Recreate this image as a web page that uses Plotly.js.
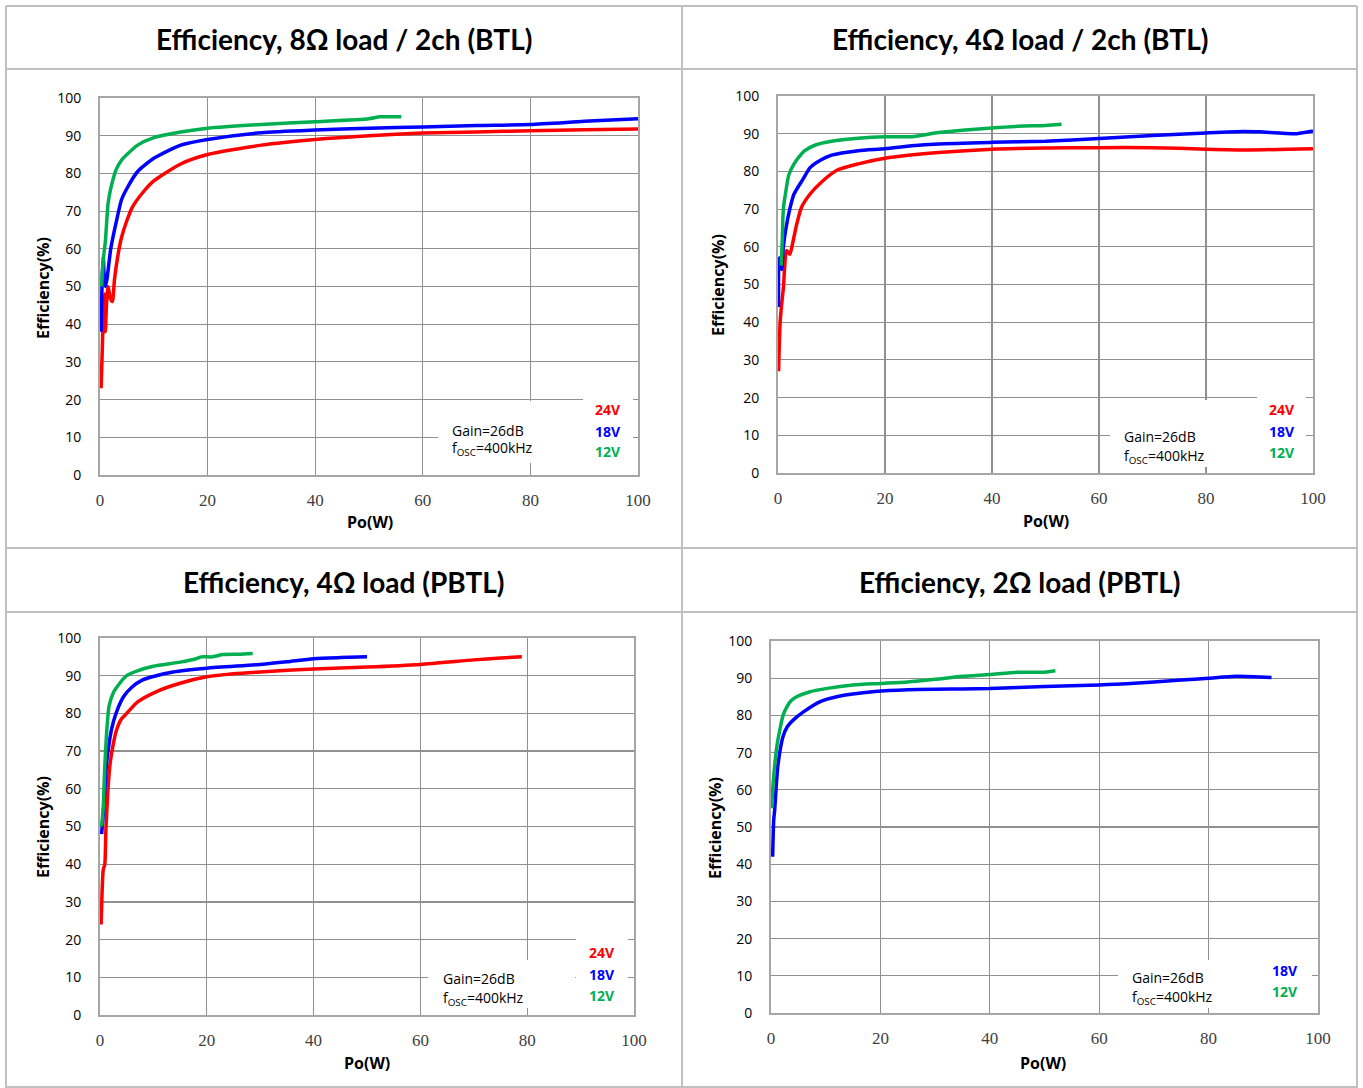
<!DOCTYPE html>
<html><head><meta charset="utf-8">
<script src="https://cdn.plot.ly/plotly-3.0.1.min.js"></script>
<style>html,body{margin:0;padding:0;background:#fff;}#c{width:1363px;height:1088px;}</style>
</head><body><div id="c"></div>
<script>
// ---------- DATA ----------
const panelTitles = ["Efficiency, 8Ω load / 2ch (BTL)", "Efficiency, 4Ω load / 2ch (BTL)", "Efficiency, 4Ω load (PBTL)", "Efficiency, 2Ω load (PBTL)"];
const xTicks = [0, 20, 40, 60, 80, 100];
const yTicks = [0, 10, 20, 30, 40, 50, 60, 70, 80, 90, 100];
const seriesNames = ["24V", "18V", "12V"];

// Panel 1: 8 ohm / 2ch BTL
const p1_24V_x = [0.2,0.4,0.6,0.8,1.0,1.2,1.5,1.9,2.3,2.7,3.3,4,5,6,8,10,15,20,30,40,50,60,70,80,90,100];
const p1_24V_y = [23,32,42,48,38,45,50,47,46,52,58,63,67.5,71,75,78,82.5,85,87.5,89,90,90.7,91,91.3,91.6,91.8];
const p1_18V_x = [0.2,0.4,0.6,0.8,1.0,1.3,2,3,4,5,7,10,15,20,30,40,50,60,70,80,90,100];
const p1_18V_y = [38,52,58,52,50,52,60,67,73,76,80.5,84,87.5,89,90.8,91.5,92,92.3,92.7,93,93.8,94.5];
const p1_12V_x = [0.3,0.6,1,1.5,2,3,4,5,7,10,15,20,30,40,50,52,56];
const p1_12V_y = [50,57,62,72,76,81,83.5,85,87.5,89.5,91,92,93,93.7,94.5,95,95];

// Panel 2: 4 ohm / 2ch BTL
const p2_24V_x = [0.1,0.4,0.7,1,1.6,2.2,2.6,3.5,4.4,6,8,11,15,20,30,40,50,60,70,80,88,100];
const p2_24V_y = [27,40,45,49,59,58,60,66,70.5,74,77,80.3,82,83.5,85,85.9,86.2,86.3,86.3,85.9,85.7,86];
const p2_18V_x = [0.1,0.3,0.5,0.7,1,1.5,2.2,3,4.7,6,8,10,15,20,25,30,40,50,60,70,80,87,90,97,100];
const p2_18V_y = [44,57,57,54,60,65,70,74,78,81,83,84.3,85.5,86,86.8,87.3,87.7,88,88.7,89.5,90.2,90.6,90.5,90,90.7];
const p2_12V_x = [0.6,0.8,1,1.5,2,3,4,5,7,10,15,20,25,30,35,40,45,50,53];
const p2_12V_y = [55,62,70,75,79,82,84,85.5,87,88,88.8,89.2,89.2,90.3,91,91.5,92,92.2,92.5];

// Panel 3: 4 ohm PBTL
const p3_24V_x = [0.2,0.4,0.6,0.9,1.1,1.5,1.9,2.5,3.1,4,5,7,10.6,15,20,25,30,40,50,60,70,75,79];
const p3_24V_y = [24,33,38.5,40,49,60,66.8,72,75.6,78.5,80,83,85.8,88,89.7,90.5,91,91.8,92.3,93,94.2,94.7,95];
const p3_18V_x = [0.3,0.6,1,1.25,1.7,2.2,3,4.4,6,8,10,13.7,20,30,35,40,45,50];
const p3_18V_y = [48,53,62,67,72,76,80,84.4,87,88.9,89.8,91,92,93,93.7,94.5,94.8,95];
const p3_12V_x = [0.3,0.6,0.9,1.3,1.7,2.5,3.7,5,7,10,15,18,19,21,23,26,28.6];
const p3_12V_y = [50,55,66,76,82,85.5,88,90,91.3,92.5,93.6,94.5,95,95,95.6,95.7,95.9];

// Panel 4: 2 ohm PBTL
const p4_18V_x = [0.3,0.4,0.5,0.7,1,1.3,2.2,3,4.1,6,9,12,19,25,35,40,50,60,65,75,80,85,91.5];
const p4_18V_y = [42,48,52,55,62,67,74.3,77,78.8,81,83.7,85,86.4,86.9,87.1,87.2,87.8,88.2,88.5,89.5,90,90.5,90.2];
const p4_12V_x = [0.1,0.4,0.7,1.1,1.6,2.2,2.9,3.7,4.7,7,10,15,20,25,30,35,40,45,50,52];
const p4_12V_y = [55,62,67,72,76,80,82.3,84,85,86.3,87.2,88.2,88.6,89,89.7,90.5,91,91.6,91.6,92];

// ---------- LAYOUT ----------
const W = 1363, H = 1088;
const X = p => p / W, Y = p => 1 - p / H;
const colors = {"24V": "#ff0000", "18V": "#0000ff", "12V": "#00b050"};

// plot rectangles in pixels: [left, right, top, bottom]
const rects = [[100, 638, 98, 475], [778, 1313, 96, 473], [100, 634, 638, 1015], [771, 1318, 641, 1013]];

const panelSeries = [
  [["24V", p1_24V_x, p1_24V_y], ["18V", p1_18V_x, p1_18V_y], ["12V", p1_12V_x, p1_12V_y]],
  [["24V", p2_24V_x, p2_24V_y], ["18V", p2_18V_x, p2_18V_y], ["12V", p2_12V_x, p2_12V_y]],
  [["24V", p3_24V_x, p3_24V_y], ["18V", p3_18V_x, p3_18V_y], ["12V", p3_12V_x, p3_12V_y]],
  [["18V", p4_18V_x, p4_18V_y], ["12V", p4_12V_x, p4_12V_y]]
];

const traces = [];
const layout = {
  width: W, height: H, margin: {l: 0, r: 0, t: 0, b: 0},
  paper_bgcolor: "#fff", plot_bgcolor: "#fff", showlegend: false,
  shapes: [], annotations: []
};

panelSeries.forEach((ser, i) => {
  const n = i + 1, sfx = n === 1 ? "" : String(n);
  ser.forEach(([name, xs, ys]) => {
    traces.push({x: xs, y: ys, type: "scatter", mode: "lines", name: name,
      xaxis: "x" + sfx, yaxis: "y" + sfx,
      line: {color: colors[name], width: 3.5, shape: "spline", smoothing: 0.6}, hoverinfo: "skip"});
  });
  const r = rects[i];
  layout["xaxis" + sfx] = {
    domain: [X(r[0]), X(r[1])], anchor: "y" + sfx, range: [0, 100],
    tickvals: xTicks, ticktext: xTicks.map(String),
    showgrid: true, gridcolor: "#909090", gridwidth: 1.2, zeroline: false,
    showline: true, mirror: true, linecolor: "#a6a6a6", linewidth: 2,
    ticks: "outside", ticklen: 9, tickcolor: "rgba(0,0,0,0)",
    tickfont: {family: "Liberation Serif", size: 17, color: "#404040"}, fixedrange: true
  };
  layout["yaxis" + sfx] = {
    domain: [Y(r[3]), Y(r[2])], anchor: "x" + sfx, range: [0, 100],
    tickvals: yTicks, ticktext: yTicks.map(String),
    showgrid: true, gridcolor: "#909090", gridwidth: 1.2, zeroline: false,
    showline: true, mirror: true, linecolor: "#a6a6a6", linewidth: 2,
    ticks: "outside", ticklen: 14, tickcolor: "rgba(0,0,0,0)",
    tickfont: {family: "Open Sans", size: 14, color: "#000"}, fixedrange: true
  };
});

// cell borders
const bc = "#c0c0c0";
[[6, 6, 1357, 6], [6, 69, 1357, 69], [6, 548, 1357, 548], [6, 612, 1357, 612], [6, 1087, 1357, 1087],
 [6, 6, 6, 1088], [682, 6, 682, 1088], [1357, 6, 1357, 1088]].forEach(s => {
  layout.shapes.push({type: "line", xref: "paper", yref: "paper", x0: X(s[0]), y0: Y(s[1]), x1: X(s[2]), y1: Y(s[3]),
    line: {color: bc, width: 2}});
});

// panel titles
const titlePos = [[344, 39], [1020, 39], [344, 582], [1020, 582]];
panelTitles.forEach((t, i) => {
  layout.annotations.push({text: "<b>" + t + "</b>", xref: "paper", yref: "paper", x: X(titlePos[i][0]), y: Y(titlePos[i][1]),
    showarrow: false, xanchor: "center", yanchor: "middle", font: {family: "Lato", size: 28, color: "#000"}});
});

// axis titles
const xtPos = [[370, 522], [1046, 521], [367, 1063], [1043, 1063]];
const ytPos = [[43, 288], [718, 285], [43, 827], [715, 828]];
for (let i = 0; i < 4; i++) {
  layout.annotations.push({text: "<b>Po(W)</b>", xref: "paper", yref: "paper", x: X(xtPos[i][0]), y: Y(xtPos[i][1]),
    showarrow: false, xanchor: "center", yanchor: "middle", font: {family: "Open Sans", size: 16, color: "#000"}});
  layout.annotations.push({text: "<b>Efficiency(%)</b>", xref: "paper", yref: "paper", x: X(ytPos[i][0]), y: Y(ytPos[i][1]),
    textangle: -90, showarrow: false, xanchor: "center", yanchor: "middle", font: {family: "Open Sans", size: 16, color: "#000"}});
}

// white boxes (gain box, voltage box) in pixels [x0,y0,x1,y1]
const boxes = [
  [[438, 401, 583, 463], [583, 393, 633, 468]],
  [[1110, 400, 1257, 467], [1257, 390, 1306, 470]],
  [[428, 960, 575, 1008], [576, 935, 628, 1010]],
  [[1118, 960, 1262, 1008], [1262, 950, 1312, 1008]]
];
boxes.forEach(bb => bb.forEach(b => {
  layout.shapes.push({type: "rect", xref: "paper", yref: "paper", x0: X(b[0]), y0: Y(b[1]), x1: X(b[2]), y1: Y(b[3]),
    fillcolor: "#fff", line: {width: 0}, layer: "above"});
}));

// gain / fosc text
const gainPos = [[450, 430, 449], [1122, 436, 456], [441, 978, 998], [1130, 977, 997]];
gainPos.forEach(g => {
  layout.annotations.push({text: "Gain=26dB", xref: "paper", yref: "paper", x: X(g[0]), y: Y(g[1]),
    showarrow: false, xanchor: "left", yanchor: "middle", font: {family: "Open Sans", size: 14, color: "#000"}});
  layout.annotations.push({text: "f<sub>OSC</sub>=400kHz", xref: "paper", yref: "paper", x: X(g[0]), y: Y(g[2]),
    showarrow: false, xanchor: "left", yanchor: "middle", font: {family: "Open Sans", size: 14, color: "#000"}});
});

// voltage labels
const voltPos = [
  [[608, 409, "24V"], [608, 431, "18V"], [608, 451, "12V"]],
  [[1282, 409, "24V"], [1282, 431, "18V"], [1282, 452, "12V"]],
  [[602, 952, "24V"], [602, 974, "18V"], [602, 995, "12V"]],
  [[1285, 970, "18V"], [1285, 991, "12V"]]
];
voltPos.forEach(vv => vv.forEach(v => {
  layout.annotations.push({text: "<b>" + v[2] + "</b>", xref: "paper", yref: "paper", x: X(v[0]), y: Y(v[1]),
    showarrow: false, xanchor: "center", yanchor: "middle", font: {family: "Open Sans", size: 14, color: colors[v[2]]}});
}));

Plotly.newPlot("c", traces, layout, {staticPlot: true, displayModeBar: false});
</script></body></html>
